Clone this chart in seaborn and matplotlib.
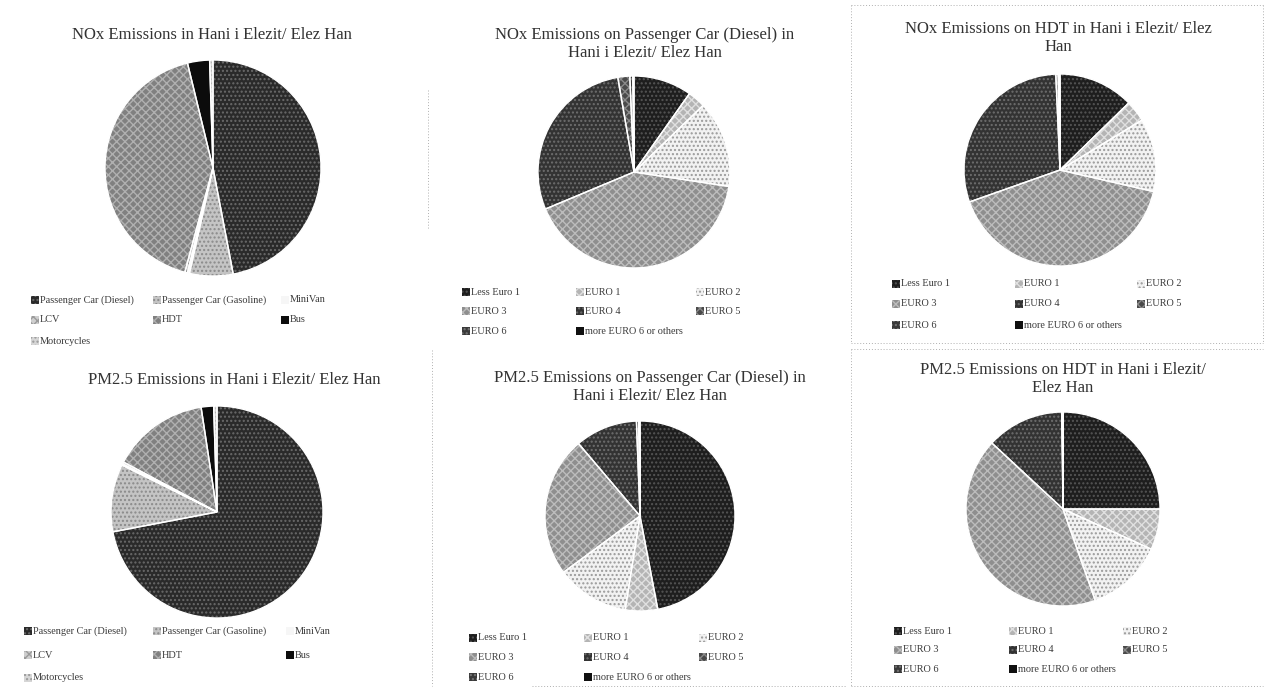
import matplotlib
matplotlib.use("Agg")
import matplotlib.pyplot as plt
from matplotlib.patches import Rectangle
from matplotlib.lines import Line2D
import seaborn as sns

# ---- data (shares in %) ----
vehicle_labels = ["Passenger Car (Diesel)", "Passenger Car (Gasoline)", "MiniVan",
                  "LCV", "HDT", "Bus", "Motorcycles"]
nox_total = [47.0, 6.5, 0.3, 0.4, 42.0, 3.3, 0.5]
pm25_total = [72.0, 10.3, 0.2, 0.3, 14.8, 1.9, 0.5]

euro_labels = ["Less Euro 1", "EURO 1", "EURO 2", "EURO 3", "EURO 4", "EURO 5",
               "EURO 6", "more EURO 6 or others"]
nox_pc_diesel = [9.8, 3.0, 14.6, 41.3, 28.6, 2.0, 0.5, 0.2]
nox_hdt = [12.7, 3.6, 12.3, 41.0, 29.7, 0.4, 0.2, 0.1]
pm25_pc_diesel = [47.0, 5.5, 12.4, 23.9, 10.6, 0.4, 0.1, 0.1]
pm25_hdt = [25.0, 6.8, 12.8, 42.3, 12.9, 0.1, 0.05, 0.05]

titles = [
    "NOx Emissions in Hani i Elezit/ Elez Han",
    "NOx Emissions on Passenger Car (Diesel) in\nHani i Elezit/ Elez Han",
    "NOx Emissions on HDT in Hani i Elezit/ Elez\nHan",
    "PM2.5 Emissions in Hani i Elezit/ Elez Han",
    "PM2.5 Emissions on Passenger Car (Diesel) in\nHani i Elezit/ Elez Han",
    "PM2.5 Emissions on HDT in Hani i Elezit/\nElez Han",
]

sns.set_theme(style="white")
plt.rcParams["font.family"] = ["Liberation Serif", "DejaVu Serif"]

# fill, hatch, hatch colour per category (monochrome print styling)
vehicle_style = [
    ("#2a2a2a", "....", "#6a6a6a"),
    ("#c4c4c4", "....", "#8a8a8a"),
    ("#f6f6f6", None, None),
    ("#cfcfcf", "xxxx", "#9a9a9a"),
    ("#808080", "xxxx", "#b0b0b0"),
    ("#0c0c0c", None, None),
    ("#d6d6d6", "....", "#9a9a9a"),
]
euro_style = [
    ("#1e1e1e", "....", "#555555"),
    ("#b4b4b4", "xxxx", "#e0e0e0"),
    ("#f2f2f2", "....", "#9a9a9a"),
    ("#8e8e8e", "xxxx", "#bcbcbc"),
    ("#333333", "....", "#6e6e6e"),
    ("#4a4a4a", "xxxx", "#8a8a8a"),
    ("#3a3a3a", "....", "#777777"),
    ("#101010", None, None),
]

W, H = 1269, 691
fig = plt.figure(figsize=(W / 100, H / 100), dpi=100)
fig.patch.set_facecolor("white")


def fx(x):
    return x / W


def fy(y):
    return 1 - y / H


panels = [
    dict(vals=nox_total, labels=vehicle_labels, style=vehicle_style,
         c=(213, 168), r=108, t=(212, 35), cols=(35, 157, 285), rows=(300, 320, 341)),
    dict(vals=nox_pc_diesel, labels=euro_labels, style=euro_style,
         c=(634, 172), r=96, t=(645, 44), cols=(466, 580, 700), rows=(292, 311, 331)),
    dict(vals=nox_hdt, labels=euro_labels, style=euro_style,
         c=(1060, 170), r=96, t=(1058, 38), cols=(896, 1019, 1141), rows=(284, 304, 325)),
    dict(vals=pm25_total, labels=vehicle_labels, style=vehicle_style,
         c=(217, 512), r=106, t=(234, 380), cols=(28, 157, 290), rows=(631, 655, 678)),
    dict(vals=pm25_pc_diesel, labels=euro_labels, style=euro_style,
         c=(640, 516), r=95, t=(650, 387), cols=(473, 588, 703), rows=(638, 657, 677)),
    dict(vals=pm25_hdt, labels=euro_labels, style=euro_style,
         c=(1063, 509), r=97, t=(1063, 379), cols=(898, 1013, 1127), rows=(631, 650, 669)),
]

for p, title in zip(panels, titles):
    cx, cy = p["c"]
    r = p["r"]
    ax = fig.add_axes([fx(cx - r), fy(cy + r), 2 * r / W, 2 * r / H])
    ax.axis("off")

    fills = [s[0] for s in p["style"]]
    # textured fill
    wedges, _ = ax.pie(p["vals"], colors=fills, startangle=90, counterclock=False,
                       radius=1, wedgeprops=dict(linewidth=0))
    for w, (fc, hatch, hc) in zip(wedges, p["style"]):
        if hatch:
            w.set_hatch(hatch)
            w.set_edgecolor(hc)
            w.set_linewidth(0)
    # white slice borders on top
    ax.pie(p["vals"], colors=["none"] * len(p["vals"]), startangle=90,
           counterclock=False, radius=1,
           wedgeprops=dict(linewidth=1.0, edgecolor="white", fill=False))
    ax.set_aspect("auto")
    ax.set_xlim(-1.0, 1.0)
    ax.set_ylim(-1.0, 1.0)

    fig.text(fx(p["t"][0]), fy(p["t"][1]), title, ha="center", va="center",
             fontsize=12, color="#333333", linespacing=1.1)

    # legend entries, row-wise in three columns
    for i, (lab, (fc, hatch, hc)) in enumerate(zip(p["labels"], p["style"])):
        row, col = divmod(i, 3)
        x0 = p["cols"][col]
        y0 = p["rows"][row]
        sq = Rectangle((fx(x0 - 4), fy(y0 + 4)), 8 / W, 8 / H,
                       transform=fig.transFigure, facecolor=fc,
                       edgecolor=hc if hatch else "none", linewidth=0,
                       hatch=hatch)
        fig.patches.append(sq)
        fig.text(fx(x0 + 5), fy(y0), lab, ha="left", va="center",
                 fontsize=7.4, color="#3a3a3a")

# faint dotted panel frames
frame_kw = dict(color="#b0b0b0", linewidth=0.7, linestyle=(0, (1, 2)))
for xs, ys in [
    ((851, 1263), (5, 5)), ((851, 851), (5, 343)), ((851, 1263), (343, 343)),
    ((1263, 1263), (5, 343)),
    ((851, 851), (349, 686)), ((851, 1263), (686, 686)), ((851, 1263), (349, 349)),
    ((432, 432), (350, 686)), ((532, 846), (686, 686)),
    ((428, 428), (90, 230)),
]:
    fig.add_artist(Line2D([fx(v) for v in xs], [fy(v) for v in ys], **frame_kw))

fig.savefig("out.png", dpi=100, facecolor="white")
